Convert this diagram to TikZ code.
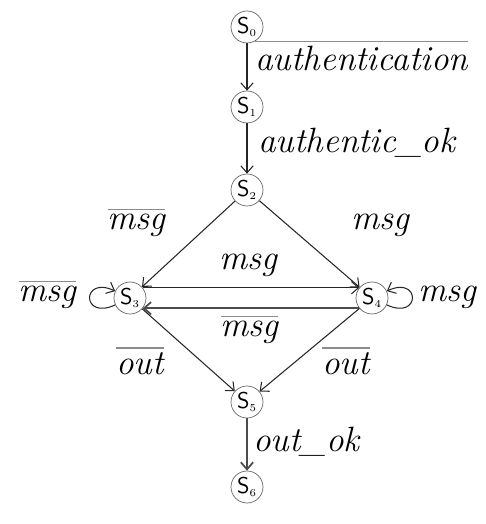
\documentclass[tikz,border=0pt]{standalone}
\usepackage{amsmath,amssymb}
\usepackage{fontspec}
\usetikzlibrary{arrows.meta}
\newcommand{\lab}[1]{\mbox{\itshape #1}}
\newcommand{\nlab}[1]{\ensuremath{\color{black!45}\overline{\color{black}\mbox{\itshape #1}}}}

\begin{document}
\begin{tikzpicture}[>={Straight Barb[length=4pt,width=7pt]},
  state/.style={circle,draw=black!60,thin,minimum size=0.64cm,inner sep=0pt,
    font=\fontsize{13}{14}\sffamily},
  trans/.style={->,draw=black!85,line width=0.6pt},
  act/.style={font=\fontsize{20}{22}\selectfont,inner sep=0pt,anchor=base}]
\useasboundingbox (0,0) rectangle (9.7,10.48);
\node[state] (s0) at (4.94,9.94) {S$_{\scriptscriptstyle 0}$};
\node[state] (s1) at (4.94,8.34) {S$_{\scriptscriptstyle 1}$};
\node[state] (s2) at (4.94,6.68) {S$_{\scriptscriptstyle 2}$};
\node[state] (s3) at (2.60,4.52) {S$_{\scriptscriptstyle 3}$};
\node[state] (s4) at (7.44,4.52) {S$_{\scriptscriptstyle 4}$};
\node[state] (s5) at (4.94,2.44) {S$_{\scriptscriptstyle 5}$};
\node[state] (s6) at (4.94,0.74) {S$_{\scriptscriptstyle 6}$};
% transitions
\draw[trans] (s0) -- (s1);
\draw[trans] (s1) -- (s2);
\draw[trans] (s2) -- (s3);
\draw[trans] (s2) -- (s4);
\draw[trans] (s3.39) -- (s4.141);
\draw[trans,line width=1pt,draw=black!70] (s4.219) -- (s3.-39);
\draw[trans] (s3) -- (s5);
\draw[trans] (s4) -- (s5);
\draw[trans,line width=1pt,draw=black!70] (s5) -- (s6);
\draw[trans] (s3.205) .. controls +(205:0.75) and +(155:0.75) .. (s3.155);
\draw[trans] (s4.-25) .. controls +(-25:0.75) and +(25:0.75) .. (s4.25);
% actions
\node[act,anchor=base west] (a01) at (5.10,9.06) {\nlab{authentication}};
\node[act,anchor=base west] (a12) at (5.16,7.42) {\lab{authentic\_ok}};
\node[act] (a23) at (2.73,5.88) {\nlab{msg}};
\node[act] (a24) at (7.60,5.88) {\lab{msg}};
\node[act] (a34) at (4.96,5.08) {\lab{msg}};
\node[act] (a43) at (4.99,3.74) {\nlab{msg}};
\node[act] (a33) at (0.95,4.44) {\nlab{msg}};
\node[act] (a44) at (8.95,4.44) {\lab{msg}};
\node[act] (a35) at (2.80,2.98) {\nlab{out}};
\node[act] (a45) at (6.92,2.98) {\nlab{out}};
\node[act,anchor=base west] (a56) at (5.06,1.44) {\lab{out\_ok}};
\end{tikzpicture}
\end{document}
